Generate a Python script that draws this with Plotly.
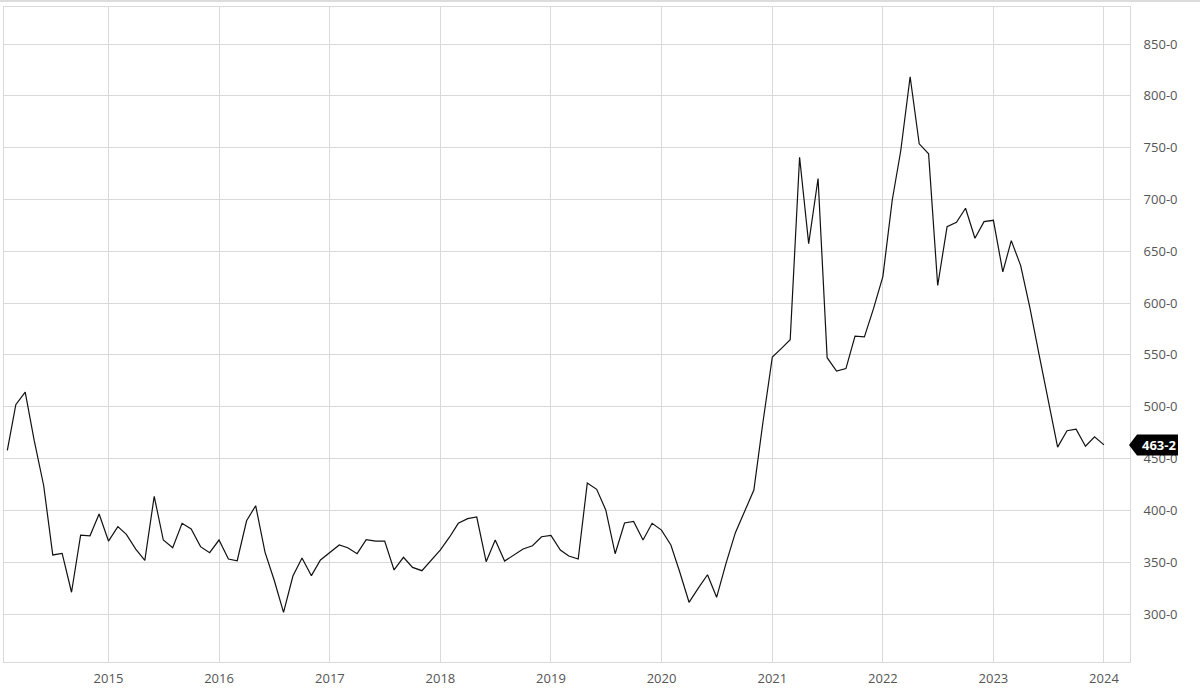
import plotly.graph_objects as go
import pandas as pd

# Monthly values, Feb 2014 .. Jan 2024
start_month = "2014-02-01"
values = [
    458, 502, 514, 467, 424, 357, 358.5, 321, 376, 375.5, 396.5,            # 2014 (Feb-Dec)
    370.4, 384.3, 376.9, 362.7, 351.8, 413.6, 371.4, 364, 387.5, 382, 365, 359.2,   # 2015
    371.4, 353, 351.4, 390, 404.5, 359.5, 332.8, 301.6, 336.7, 354, 337, 352.1,     # 2016
    359.5, 366.6, 364, 358.2, 371.7, 370.4, 370.4, 342.5, 354.7, 345, 341.8, 351.4, # 2017
    361.8, 374.6, 387.5, 392, 393.6, 350.5, 371.4, 351.1, 356.9, 362.7, 365.9, 374.6, # 2018
    375.9, 361.8, 356, 353.1, 426.4, 420.3, 400.4, 358.2, 387.8, 389.4, 371.4, 387.5, # 2019
    381, 366.6, 340.8, 311.3, 324.8, 337.9, 316.1, 348.9, 378.5, 398.1, 419.6, 485,   # 2020
    548, 556.6, 564.7, 740.7, 657.4, 720.2, 547.3, 534.5, 536.8, 568.2, 567.4, 594.6, # 2021
    625.6, 699.5, 747, 818.4, 753.7, 744, 617, 673.7, 678, 691.5, 662.6, 678.6,       # 2022
    679.9, 630.1, 660.3, 636.2, 596, 550, 505, 461, 476.8, 478.4, 461.9, 471,         # 2023
    463.2,                                                                              # 2024
]
dates = pd.date_range(start_month, periods=len(values), freq="MS")

y_ticks = [300, 350, 400, 450, 500, 550, 600, 650, 700, 750, 800, 850]
y_ticktext = [f"{v:.1f}".replace(".", "-") for v in y_ticks]
x_ticks = [f"{y}-01-01" for y in range(2015, 2025)]
x_ticktext = [str(y) for y in range(2015, 2025)]

last_value = values[-1]
last_label = f"{last_value:.1f}".replace(".", "-")

GRID = "#d9d9d9"
FONT = "Open Sans"

fig = go.Figure()
fig.add_trace(go.Scatter(
    x=dates, y=values, mode="lines",
    line=dict(color="#111111", width=1.2),
    hoverinfo="skip", showlegend=False,
))

# last value pointer label
fig.add_shape(
    type="path", xref="paper", yref="y",
    xsizemode="pixel", ysizemode="pixel",
    xanchor=1, yanchor=last_value,
    path="M -1,0 L 7,10.5 L 48,10.5 L 48,-10.5 L 7,-10.5 Z",
    fillcolor="#000000", line=dict(width=0), layer="above",
)
fig.add_annotation(
    x=1, xref="paper", y=last_value, yref="y",
    xshift=28.5, xanchor="center", yanchor="middle",
    text=f"<b>{last_label}</b>", showarrow=False,
    font=dict(family=FONT, size=13, color="#ffffff"),
)
# thin line at very top of page
fig.add_shape(
    type="line", xref="paper", yref="paper",
    x0=-4/1126, x1=1196/1126, y0=1 + 6/655, y1=1 + 6/655,
    line=dict(color="#d0d0d0", width=1.5),
)

fig.update_layout(
    width=1200, height=697,
    margin=dict(l=4, r=70, t=7, b=35),
    paper_bgcolor="#ffffff", plot_bgcolor="#ffffff",
    font=dict(family=FONT, size=13, color="#555555"),
    showlegend=False,
    xaxis=dict(
        type="date",
        range=["2014-01-21", "2024-03-27"],
        tickvals=x_ticks, ticktext=x_ticktext,
        showgrid=True, gridcolor=GRID, gridwidth=1,
        showline=True, linecolor=GRID, linewidth=1, mirror=True,
        zeroline=False, ticks="", ticklabelstandoff=4,
        tickfont=dict(family=FONT, size=13, color="#555555"),
    ),
    yaxis=dict(
        side="right",
        range=[253.7, 885.7],
        tickvals=y_ticks, ticktext=y_ticktext,
        showgrid=True, gridcolor=GRID, gridwidth=1,
        showline=True, linecolor=GRID, linewidth=1, mirror=True,
        zeroline=False, ticks="", ticklabelstandoff=10,
        tickfont=dict(family=FONT, size=13, color="#555555"),
    ),
)

fig.write_html(
    "out.html",
    config={"displayModeBar": False},
    post_script="document.body.style.margin='0';document.body.style.overflow='hidden';",
)
